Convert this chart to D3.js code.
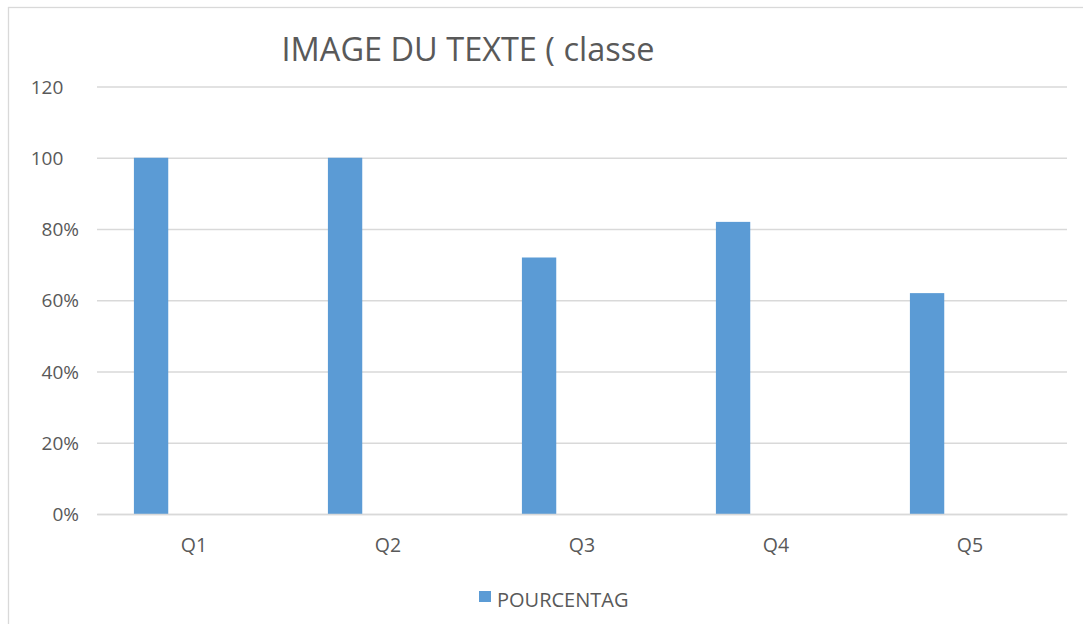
<!DOCTYPE html>
<html>
<head>
<meta charset="utf-8">
<script src="https://cdn.jsdelivr.net/npm/d3@7"></script>
<style>
  html, body { margin: 0; padding: 0; background: #fff; }
  #chart { width: 1083px; height: 624px; }
  text { font-family: "Open Sans", "Noto Sans", sans-serif; fill: #595959; }
</style>
</head>
<body>
<div id="chart"></div>
<script>
// Données du graphique
const categories = ["Q1", "Q2", "Q3", "Q4", "Q5"];
const pourcentag = [100, 100, 72, 82, 62];
// deux emplacements par catégorie, le second est vide dans l'original
const slots = ["POURCENTAG", "vide"];
const yTicks = [0, 20, 40, 60, 80, 100, 120];
const yTickLabels = ["0%", "20%", "40%", "60%", "80%", "100", "120"];
const titre = "IMAGE DU TEXTE ( classe";

function grafico(container, props) {
    var margin = {top: 86.5, right: 16, bottom: 110, left: 97};
    var width = props.width - margin.left - margin.right;
    var height = props.height - margin.top - margin.bottom;

    let svg = container.append('svg')
        .attr('width', props.width)
        .attr('height', props.height);

    // cadre du graphique
    svg.append('rect')
        .attr('x', 8.5)
        .attr('y', 7.5)
        .attr('width', props.width)
        .attr('height', props.height)
        .attr('fill', 'white')
        .attr('stroke', '#d9d9d9')
        .attr('stroke-width', 1.3);

    let g = svg.append('g')
        .attr('transform', 'translate(' + margin.left + ',' + margin.top + ')');

    // Titre
    svg.append('text')
        .attr('x', 468)
        .attr('y', 61)
        .attr('text-anchor', 'middle')
        .style('font-size', '32.5px')
        .text(titre);

    const xScale = d3.scaleBand()
        .domain(categories)
        .range([0, width])
        .padding(0);
    const xSub = d3.scaleBand()
        .domain(slots)
        .range([0, xScale.bandwidth()])
        .paddingInner(0.6)
        .paddingOuter(0.43);

    const yScale = d3.scaleLinear()
        .domain([0, 120])
        .range([height, 0]);

    // Grille et étiquettes de l'axe Y
    const yAxis = d3.axisLeft(yScale)
        .tickValues(yTicks)
        .tickSize(-width)
        .tickFormat((d, i) => yTickLabels[i]);
    let yAxisG = g.append('g').attr('class', 'y-axis').call(yAxis);
    yAxisG.select('.domain').remove();
    yAxisG.selectAll('line').attr('stroke', '#d9d9d9').attr('stroke-width', 1.3);
    yAxisG.selectAll('text')
        .attr('x', -18)
        .attr('dy', '0.35em')
        .style('font-size', '19px')
        .attr('fill', '#595959');

    // dans l'original le "%" de 100 et 120 est coupé : on garde l'alignement
    let mesure = svg.append('text').style('font-size', '19px').text('%');
    const pct = mesure.node().getComputedTextLength();
    mesure.remove();
    yAxisG.selectAll('text')
        .filter(function() { return !this.textContent.endsWith('%'); })
        .attr('x', -18 - pct);

    // Barres
    g.selectAll('.barre')
        .data(pourcentag)
        .enter().append('rect')
        .attr('class', 'barre')
        .attr('x', (d, i) => xScale(categories[i]) + xSub(slots[0]))
        .attr('y', d => yScale(d))
        .attr('width', xSub.bandwidth())
        .attr('height', d => height - yScale(d))
        .attr('fill', '#5b9bd5');

    // Axe X
    const xAxis = d3.axisBottom(xScale).tickSize(0).tickPadding(24);
    let xAxisG = g.append('g')
        .attr('transform', `translate(0, ${height})`)
        .call(xAxis);
    xAxisG.select('.domain').attr('stroke', '#d9d9d9').attr('stroke-width', 1.5);
    xAxisG.selectAll('text')
        .style('font-size', '19.5px')
        .attr('fill', '#595959');

    // Légende
    let legend = svg.append('g')
        .attr('transform', 'translate(479, 591)');
    legend.append('rect')
        .attr('width', 12)
        .attr('height', 11)
        .attr('fill', '#5b9bd5');
    legend.append('text')
        .attr('x', 18)
        .attr('y', 15.7)
        .style('font-size', '20px')
        .text(slots[0]);
}

grafico(d3.select('#chart'), {width: 1083, height: 624});
</script>
</body>
</html>
